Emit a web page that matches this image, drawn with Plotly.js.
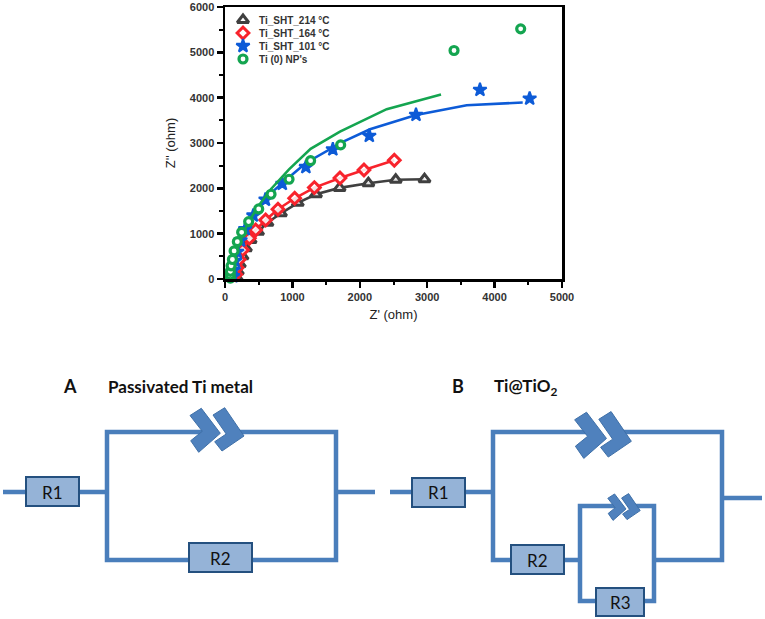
<!DOCTYPE html>
<html>
<head>
<meta charset="utf-8">
<script src="https://cdn.plot.ly/plotly-3.0.1.min.js"></script>
<style>html,body{margin:0;padding:0;background:#fff}</style>
</head>
<body>
<div id="chart" style="width:765px;height:619px"></div>
<script>
// Nyquist data (ohm)
const blackX = [170, 190, 220, 260, 310, 380, 490, 630, 830, 1080, 1350, 1700, 2127, 2533, 2960];
const blackY = [40, 170, 330, 500, 680, 860, 1040, 1240, 1450, 1680, 1870, 2010, 2112, 2190, 2200];
const redX = [160, 180, 210, 260, 361, 455, 603, 786, 1034, 1326, 1706, 2062, 2512];
const redY = [100, 250, 430, 640, 898, 1082, 1302, 1538, 1781, 2016, 2229, 2406, 2620];
const blueX = [120, 130, 150, 180, 230, 300, 420, 600, 850, 1200, 1600, 2141, 2834, 3783, 4520];
const blueY = [60, 200, 400, 600, 850, 1100, 1400, 1750, 2100, 2470, 2860, 3157, 3620, 4172, 3980];
const blueFitX = [130, 140, 160, 200, 280, 400, 600, 850, 1200, 1755, 2151, 2834, 3586, 4417];
const blueFitY = [0, 150, 400, 700, 1050, 1400, 1780, 2120, 2560, 3031, 3304, 3620, 3834, 3892];
const greenX = [80, 78, 80, 90, 110, 135, 183, 247, 351, 500, 683, 950, 1270, 1716, 3398, 4387];
const greenY = [20, 90, 170, 290, 430, 620, 824, 1030, 1266, 1545, 1869, 2200, 2610, 2958, 5040, 5518];
const greenFitX = [90, 110, 150, 220, 330, 480, 680, 950, 1270, 1706, 2399, 3205];
const greenFitY = [0, 250, 500, 820, 1200, 1580, 1980, 2420, 2870, 3252, 3746, 4068];

const seriesNames = ['Ti_SHT_214 °C', 'Ti_SHT_164 °C', 'Ti_SHT_101 °C', "Ti (0) NP's"];

const BLACK = '#404040', RED = '#f8232c', BLUE = '#0d5bd7', GREEN = '#14a550';
const WIRE = '#4a7ebb', BOX = '#95b3d7', EDGE = '#24507f', CPE = '#4f81bd';
const TEXT_FONT = 'Liberation Sans, Arial, sans-serif';
const LABEL_FONT = 'Lato, sans-serif';

const styles = [
    { symbol: 'triangle-up', color: BLACK, fill: 'rgba(255,255,255,0.85)', size: 10, width: 3 },
    { symbol: 'diamond', color: RED, fill: 'rgba(255,255,255,0.85)', size: 9, width: 3 },
    { symbol: 'star', color: BLUE, fill: BLUE, size: 10, width: 2 },
    { symbol: 'circle', color: GREEN, fill: '#ffffff', size: 8, width: 3.2 }
];

function fitLine(x, y, color) {
    return { x: x, y: y, mode: 'lines', type: 'scatter', showlegend: false, hoverinfo: 'skip',
        line: { color: color, width: 2.6 }, cliponaxis: false };
}

function points(x, y, name, st, extra) {
    return Object.assign({ x: x, y: y, name: name, mode: 'markers', type: 'scatter', cliponaxis: false,
        showlegend: false,
        marker: { symbol: st.symbol, color: st.fill, size: st.size, line: { color: st.color, width: st.width } } }, extra || {});
}

const traces = [
    fitLine(blackX, blackY, BLACK),
    points(blackX, blackY, seriesNames[0], styles[0]),
    fitLine(redX, redY, RED),
    points(redX, redY, seriesNames[1], styles[1]),
    fitLine(blueFitX, blueFitY, BLUE),
    points(blueX, blueY, seriesNames[2], styles[2]),
    fitLine(greenFitX, greenFitY, GREEN),
    points(greenX, greenY, seriesNames[3], styles[3])
];

// Everything below is page furniture, in page pixels on a hidden overlay axis
const annotations = [];

// legend rows sit closer than plotly's own legend allows
seriesNames.forEach((name, i) => {
    const rowY = 20 + i * 13;
    traces.push(points([243], [rowY], name, styles[i], { xaxis: 'x2', yaxis: 'y2', hoverinfo: 'skip' }));
    annotations.push({ xref: 'x2', yref: 'y2', x: 257, y: rowY, text: '<b>' + name + '</b>', showarrow: false,
        xanchor: 'left', yanchor: 'middle', font: { family: TEXT_FONT, size: 10, color: '#333333' } });
});

const shapes = [];

function wire(pts) {
    const path = pts.map((p, i) => (i ? 'L' : 'M') + p[0] + ',' + p[1]).join(' ');
    shapes.push({ type: 'path', xref: 'x2', yref: 'y2', path: path,
        line: { color: WIRE, width: 4.5 } });
}

function box(x0, y0, x1, y1) {
    shapes.push({ type: 'rect', xref: 'x2', yref: 'y2', x0: x0, y0: y0, x1: x1, y1: y1,
        fillcolor: BOX, line: { color: EDGE, width: 2 } });
}

function cpe(cx, cy, s) {
    const first = [[-27, -14.5], [-15.7, -21.7], [3.3, 3.3], [-18.3, 22.3], [-26.3, 10.7], [-14.7, 1.3]];
    const second = [[-4, -15], [7.7, -22.3], [27, 6], [5, 21], [-2.3, 11.7], [9.2, 4]];
    [first, second].forEach(poly => {
        const path = poly.map((p, i) => (i ? 'L' : 'M') + (cx + p[0] * s) + ',' + (cy + p[1] * s)).join(' ') + ' Z';
        shapes.push({ type: 'path', xref: 'x2', yref: 'y2', path: path,
            fillcolor: CPE, line: { color: '#3f70a8', width: 1 } });
    });
}

// circuit A
wire([[3, 492], [107, 492]]);
wire([[212, 432], [107, 432], [107, 560], [336, 560], [336, 432], [232, 432]]);
wire([[336, 492], [375, 492]]);
box(26, 477, 79, 506);
box(189, 543, 252, 572);
cpe(217, 430, 1);

// circuit B
wire([[390, 492], [493, 492]]);
wire([[598, 432], [493, 432], [493, 560], [580, 560]]);
wire([[618, 432], [722, 432], [722, 560], [654, 560]]);
wire([[621, 506], [580, 506], [580, 601], [654, 601], [654, 506], [633, 506]]);
wire([[722, 498], [762, 498]]);
box(412, 478, 465, 507);
box(511, 545, 564, 574);
box(596, 588, 644, 616);
cpe(603, 435, 1.05);
cpe(624, 507, 0.6);

function label(x, y, text, size, bold) {
    annotations.push({ xref: 'x2', yref: 'y2', x: x, y: y, text: bold ? '<b>' + text + '</b>' : text,
        showarrow: false, xanchor: 'center', yanchor: 'middle',
        font: { family: LABEL_FONT, size: size, color: '#111111' } });
}

label(70, 386, 'A', 18, true);
label(180, 386, 'Passivated Ti metal', 17, true);
label(458, 386, 'B', 18, true);
label(525, 387, 'Ti@TiO<sub>2</sub>', 17, true);
label(52, 492, 'R1', 17);
label(220, 558, 'R2', 17);
label(438, 492, 'R1', 17);
label(537, 560, 'R2', 17);
label(620, 602, 'R3', 17);

function plotAxis(range, domain, titleText, standoff) {
    return {
        range: range, domain: domain, showgrid: false, zeroline: false,
        showline: true, mirror: true, linecolor: '#000000', linewidth: 2.5,
        ticks: 'outside', ticklen: 6, tickwidth: 2.5, tickcolor: '#000000', dtick: 1000,
        minor: { dtick: 500, ticks: 'outside', ticklen: 3.5, tickwidth: 2, tickcolor: '#000000' },
        tickfont: { family: TEXT_FONT, size: 11, color: '#333333', weight: 'bold' },
        title: { text: titleText, standoff: standoff, font: { family: TEXT_FONT, size: 13, color: '#222222' } }
    };
}

const layout = {
    width: 765, height: 619,
    margin: { l: 0, r: 0, t: 0, b: 0 },
    paper_bgcolor: '#ffffff',
    plot_bgcolor: 'rgba(0,0,0,0)',
    xaxis: plotAxis([0, 5000], [225 / 765, 562 / 765], "Z' (ohm)", 8),
    yaxis: plotAxis([0, 6000], [340 / 619, 612 / 619], "Z'' (ohm)", 12),
    xaxis2: { domain: [0, 1], range: [0, 765], anchor: 'y2', visible: false, fixedrange: true },
    yaxis2: { domain: [0, 1], range: [619, 0], anchor: 'x2', visible: false, fixedrange: true },
    shapes: shapes,
    annotations: annotations,
    showlegend: false
};

Plotly.newPlot('chart', traces, layout, { displayModeBar: false, staticPlot: true });
</script>
</body>
</html>
